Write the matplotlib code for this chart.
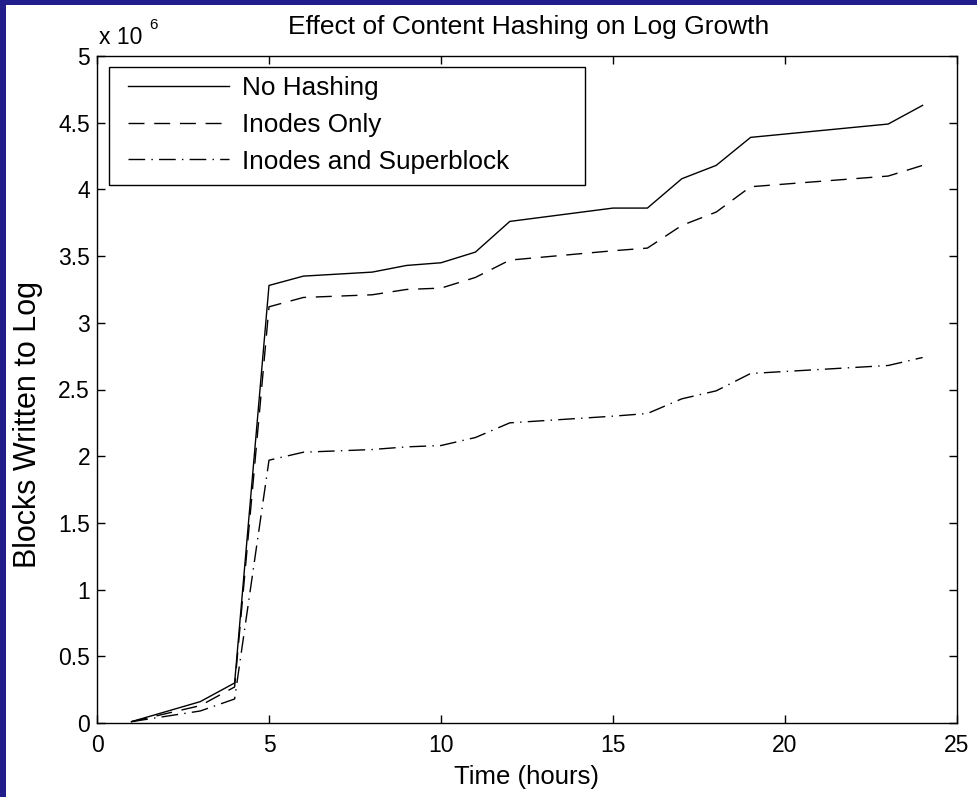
import matplotlib
matplotlib.use("Agg")
from matplotlib import pyplot as plt
from matplotlib.patches import Rectangle

plt.rcParams['font.family'] = ['Liberation Sans', 'DejaVu Sans']

# Time in hours, block counts in units of 10^6
hours = [1, 3, 4, 5, 6, 8, 9, 10, 11, 12, 15, 16, 17, 18, 19, 23, 24]
no_hashing = [0.01, 0.16, 0.30, 3.28, 3.35, 3.38, 3.43, 3.45, 3.53, 3.76,
              3.86, 3.86, 4.08, 4.18, 4.39, 4.49, 4.63]
inodes_only = [0.01, 0.13, 0.27, 3.12, 3.19, 3.21, 3.25, 3.26, 3.34, 3.47,
               3.54, 3.56, 3.73, 3.83, 4.02, 4.10, 4.18]
inodes_super = [0.01, 0.09, 0.18, 1.97, 2.03, 2.05, 2.07, 2.08, 2.14, 2.25,
                2.30, 2.32, 2.43, 2.49, 2.62, 2.68, 2.74]

series_labels = ["No Hashing", "Inodes Only", "Inodes and Superblock"]
x_ticks = [0, 5, 10, 15, 20, 25]
y_ticks = [0, 0.5, 1, 1.5, 2, 2.5, 3, 3.5, 4, 4.5, 5]
y_ticklabels = ["0", "0.5", "1", "1.5", "2", "2.5", "3", "3.5", "4", "4.5", "5"]

W, H = 978, 797
fig = plt.figure(figsize=(W / 100, H / 100), dpi=100)
fig.patch.set_facecolor('#211d8a')
# white slide area
fig.patches.append(Rectangle((6 / W, 0), 1 - 6 / W, 1 - 5 / H, transform=fig.transFigure,
                             facecolor='white', edgecolor='none', zorder=-10))

left, right, top, bottom = 97, 957, 56, 723
aw, ah = right - left, bottom - top
ax = fig.add_axes([left / W, 1 - bottom / H, aw / W, ah / H])
ax.set_zorder(5)

ax.plot(hours, no_hashing, color='black', lw=1.0, linestyle='-', label=series_labels[0])
ax.plot(hours, inodes_only, color='black', lw=1.0, linestyle=(0, (11.5, 7)), label=series_labels[1])
ax.plot(hours, inodes_super, color='black', lw=1.0, linestyle=(0, (12, 4.5, 1, 4.5)),
        label=series_labels[2])

ax.set_xlim(0, 25)
ax.set_ylim(0, 5)
ax.set_xticks(x_ticks)
ax.set_yticks(y_ticks)
ax.set_yticklabels(y_ticklabels)
ax.tick_params(direction='in', length=5.5, width=1, top=True, right=True, labelsize=16.5)
ax.tick_params(axis='x', pad=8)
ax.tick_params(axis='y', pad=5)
for s in ax.spines.values():
    s.set_linewidth(1.0)

# legend box (MATLAB style, wider than its contents)
box_l, box_t, box_r, box_b = 109, 67, 585, 185
ax.add_patch(Rectangle(((box_l - left) / aw, 1 - (box_b - top) / ah),
                       (box_r - box_l) / aw, (box_b - box_t) / ah,
                       transform=ax.transAxes, facecolor='white', edgecolor='black',
                       lw=1.0, zorder=8))
leg = ax.legend(loc='center left', bbox_to_anchor=((128 - left) / aw, 1 - (125 - top) / ah),
                borderaxespad=0, borderpad=0, fontsize=18.8, handlelength=3.85,
                handletextpad=0.5, labelspacing=0.48, frameon=False)
leg.set_zorder(9)

fig.text(529 / W, 1 - 27 / H, "Effect of Content Hashing on Log Growth", fontsize=19,
         ha='center', va='center')
fig.text(527 / W, 1 - 777 / H, "Time (hours)", fontsize=18.5, ha='center', va='center')
fig.text(28 / W, 1 - 425 / H, "Blocks Written to Log", fontsize=22, rotation=90,
         ha='center', va='center')

# exponent marker
fig.text(99 / W, 1 - 44 / H, "x 10", fontsize=16.5, ha='left', va='baseline')
fig.text(149 / W, 1 - 29 / H, "6", fontsize=11, ha='left', va='baseline')

fig.savefig("out.png", dpi=100, facecolor=fig.get_facecolor())
